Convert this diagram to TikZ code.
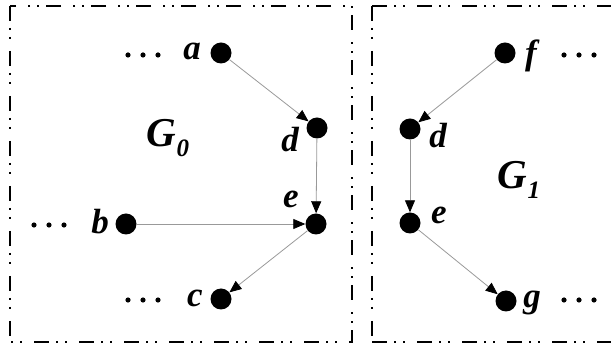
\documentclass[tikz,border=0pt]{standalone}
\usepackage{fontspec}
\setmainfont{Liberation Serif}
\usetikzlibrary{arrows.meta}
\tikzset{
  vtx/.style={circle, fill=black, inner sep=0pt, minimum size=21pt},
  lbl/.style={inner sep=0pt, font=\bfseries\itshape\fontsize{35}{35}\selectfont},
  glbl/.style={inner sep=0pt, font=\bfseries\itshape\fontsize{41}{41}\selectfont},
  arr/.style={draw=black!40, line width=0.8pt, -{Triangle[length=12pt,width=10pt,color=black]}},
  frame/.style={draw=black, line width=2pt, dash pattern=on 15pt off 7pt on 2pt off 7pt on 2pt off 12pt},
  dotc/.style={fill=black}
}
\newcommand{\threedots}[2]{\foreach \k in {-15,0,15} \fill[dotc] (#1+\k,#2) circle (2.6pt);}
\begin{document}
\begin{tikzpicture}[x=1pt,y=-1pt]
\useasboundingbox (0,0) rectangle (611,352);
% frames
\draw[frame] (10,6) rectangle (352,342);
\draw[frame] (372,6) -- (372,342) (372,6) -- (620,6) (372,342) -- (620,342);
% left graph
\node[vtx] (a) at (221,53) {};
\node[vtx] (d0) at (317,128) {};
\node[vtx] (e0) at (316,224) {};
\node[vtx] (b) at (126,224) {};
\node[vtx] (c) at (221,299) {};
\node[lbl] (la) at (192,51) {a};
\node[lbl] (ld0) at (290,140) {d};
\node[lbl] (le0) at (291,199) {e};
\node[lbl] (lb) at (100,222) {b};
\node[lbl] (lc) at (195,298) {c};
\threedots{143}{55}
\threedots{49}{225}
\threedots{143}{300}
\node[glbl] (G0) at (168,138) {G\raisebox{-0.25em}{\fontsize{25}{25}\selectfont 0}};
\draw[arr] (a) -- (d0);
\draw[arr] (d0) -- (e0);
\draw[arr] (b) -- (e0);
\draw[arr] (e0) -- (c);
% right graph
\node[vtx] (f) at (505,53) {};
\node[vtx] (d1) at (410,129) {};
\node[vtx] (e1) at (410,223) {};
\node[vtx] (g) at (506,301) {};
\node[lbl] (lf) at (531,56) {f};
\node[lbl] (ld1) at (438,136) {d};
\node[lbl] (le1) at (439,215) {e};
\node[lbl] (lg) at (532,303) {g};
\threedots{579}{55}
\threedots{579}{300}
\node[glbl] (G1) at (519,180) {G\raisebox{-0.25em}{\fontsize{25}{25}\selectfont 1}};
\draw[arr] (f) -- (d1);
\draw[arr] (d1) -- (e1);
\draw[arr] (e1) -- (g);
\end{tikzpicture}
\end{document}
